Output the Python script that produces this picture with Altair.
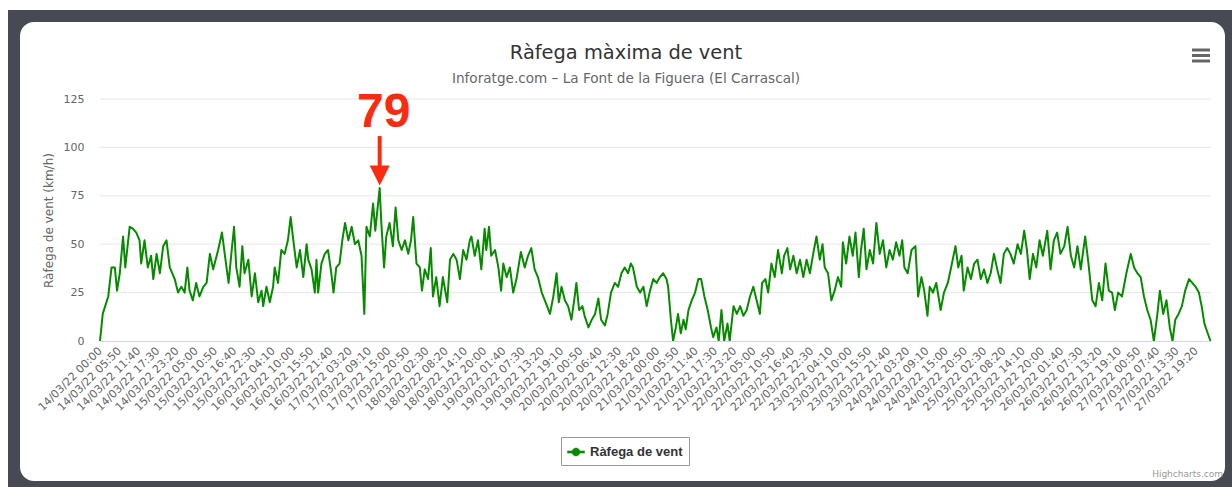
import json
import altair as alt
import pandas as pd

# ---------------- texts ----------------
TITLE = "Ràfega màxima de vent"
SUBTITLE = "Inforatge.com – La Font de la Figuera (El Carrascal)"
SERIES = "Ràfega de vent"
Y_TITLE = "Ràfega de vent (km/h)"
CREDITS = "Highcharts.com"

# ---------------- axis data ----------------
x_labels = [
    "14/03/22 00:00", "14/03/22 05:50", "14/03/22 11:40", "14/03/22 17:30", "14/03/22 23:20",
    "15/03/22 05:00", "15/03/22 10:50", "15/03/22 16:40", "15/03/22 22:30",
    "16/03/22 04:10", "16/03/22 10:00", "16/03/22 15:50", "16/03/22 21:40",
    "17/03/22 03:20", "17/03/22 09:10", "17/03/22 15:00", "17/03/22 20:50",
    "18/03/22 02:30", "18/03/22 08:20", "18/03/22 14:10", "18/03/22 20:00",
    "19/03/22 01:40", "19/03/22 07:30", "19/03/22 13:20", "19/03/22 19:10",
    "20/03/22 00:50", "20/03/22 06:40", "20/03/22 12:30", "20/03/22 18:20",
    "21/03/22 00:00", "21/03/22 05:50", "21/03/22 11:40", "21/03/22 17:30", "21/03/22 23:20",
    "22/03/22 05:00", "22/03/22 10:50", "22/03/22 16:40", "22/03/22 22:30",
    "23/03/22 04:10", "23/03/22 10:00", "23/03/22 15:50", "23/03/22 21:40",
    "24/03/22 03:20", "24/03/22 09:10", "24/03/22 15:00", "24/03/22 20:50",
    "25/03/22 02:30", "25/03/22 08:20", "25/03/22 14:10", "25/03/22 20:00",
    "26/03/22 01:40", "26/03/22 07:30", "26/03/22 13:20", "26/03/22 19:10",
    "27/03/22 00:50", "27/03/22 07:40", "27/03/22 13:30", "27/03/22 19:20",
]
LABEL_STEP = 35          # one category label every 35 readings (10-min data)
N_POINTS = 2022          # number of readings on the category axis
y_ticks = [0, 25, 50, 75, 100, 125]
grid_values = [25, 50, 75, 100, 125]

# ---------------- series (reading number, gust km/h) ----------------
point_no = [
    0, 5, 15, 21, 27, 31, 36, 42, 46, 54, 60, 66, 72, 75, 81, 87, 93, 97, 103, 109,
    115, 121, 127, 136, 142, 148, 154, 159, 163, 169, 175, 181, 188, 194, 200, 206, 215, 222, 227, 234,
    239, 244, 248, 254, 259, 263, 270, 276, 282, 288, 294, 297, 303, 309, 315, 318, 324, 330, 336, 342,
    347, 351, 358, 364, 370, 376, 379, 385, 391, 394, 397, 403, 409, 415, 421, 425, 430, 436, 441, 446,
    452, 458, 464, 470, 476, 481, 485, 491, 497, 501, 509, 512, 517, 521, 527, 533, 538, 543, 549, 555,
    561, 566, 570, 576, 582, 586, 591, 597, 602, 606, 612, 618, 624, 632, 637, 643, 649, 655, 661, 667,
    673, 676, 682, 688, 694, 700, 703, 708, 712, 719, 725, 730, 734, 740, 746, 752, 758, 766, 773, 779,
    785, 791, 797, 804, 811, 819, 825, 831, 835, 840, 846, 852, 858, 863, 867, 872, 878, 882, 889, 895,
    901, 907, 912, 919, 924, 930, 937, 943, 949, 955, 961, 966, 970, 977, 983, 989, 995, 1001, 1007, 1013,
    1019, 1025, 1031, 1034, 1039, 1043, 1048, 1052, 1057, 1062, 1066, 1071, 1077, 1083, 1089, 1094, 1100, 1106, 1112, 1116,
    1122, 1126, 1131, 1136, 1142, 1146, 1153, 1159, 1165, 1171, 1177, 1183, 1189, 1195, 1201, 1205, 1211, 1216, 1222, 1228,
    1234, 1241, 1245, 1251, 1256, 1262, 1268, 1274, 1280, 1286, 1292, 1298, 1304, 1310, 1315, 1319, 1325, 1331, 1337, 1343,
    1349, 1352, 1358, 1364, 1370, 1375, 1381, 1385, 1390, 1395, 1401, 1407, 1413, 1419, 1425, 1431, 1437, 1443, 1449, 1455,
    1460, 1464, 1470, 1477, 1484, 1489, 1495, 1500, 1506, 1510, 1516, 1522, 1530, 1536, 1543, 1549, 1557, 1562, 1568, 1572,
    1579, 1585, 1591, 1597, 1603, 1609, 1615, 1621, 1627, 1633, 1639, 1645, 1651, 1657, 1663, 1670, 1676, 1682, 1687, 1692,
    1698, 1704, 1710, 1716, 1724, 1730, 1736, 1742, 1748, 1755, 1761, 1767, 1773, 1779, 1785, 1793, 1799, 1806, 1812, 1818,
    1824, 1830, 1836, 1842, 1847, 1853, 1860, 1868, 1876, 1882, 1888, 1894, 1900, 1906, 1912, 1918, 1924, 1929, 1935, 1941,
    1947, 1952, 1957, 1963, 1969, 1975, 1982, 1988, 1994, 2000, 2005, 2010, 2016, 2021,
]
gust = [
    0, 14, 23, 38, 38, 26, 35, 54, 38, 59, 58, 56, 52, 40, 52, 38, 44, 32, 45, 35,
    49, 52, 38, 32, 25, 28, 25, 38, 26, 21, 30, 23, 28, 30, 45, 37, 47, 56, 45, 30,
    45, 59, 38, 28, 49, 35, 42, 23, 35, 20, 26, 18, 28, 20, 28, 38, 30, 47, 45, 52,
    64, 54, 38, 47, 33, 50, 42, 37, 25, 42, 25, 40, 45, 47, 35, 25, 38, 40, 52, 61,
    52, 59, 50, 52, 44, 14, 59, 54, 71, 57, 79, 61, 38, 54, 61, 49, 69, 52, 47, 52,
    45, 52, 64, 40, 38, 26, 37, 32, 48, 23, 33, 18, 33, 20, 42, 45, 42, 32, 47, 42,
    52, 54, 44, 52, 37, 58, 47, 59, 44, 47, 38, 26, 40, 33, 38, 25, 32, 46, 38, 44,
    48, 37, 33, 25, 20, 14, 23, 35, 20, 28, 21, 18, 11, 21, 30, 16, 18, 13, 7, 11,
    14, 22, 11, 8, 14, 25, 30, 28, 35, 38, 35, 40, 38, 28, 25, 28, 18, 26, 32, 30,
    33, 35, 32, 28, 11, 0, 7, 14, 4, 11, 6, 16, 21, 25, 32, 32, 23, 16, 7, 2,
    7, 0, 16, 0, 9, 0, 18, 14, 18, 13, 16, 23, 28, 21, 14, 30, 32, 25, 40, 33,
    47, 35, 44, 48, 37, 44, 35, 42, 33, 42, 35, 45, 54, 42, 50, 38, 35, 21, 26, 33,
    28, 51, 40, 54, 44, 56, 33, 47, 58, 37, 47, 40, 61, 45, 52, 38, 47, 42, 51, 44,
    52, 38, 35, 47, 49, 23, 33, 26, 13, 28, 25, 30, 16, 25, 30, 38, 49, 38, 44, 26,
    38, 32, 40, 42, 32, 37, 30, 35, 45, 37, 30, 45, 48, 45, 40, 50, 45, 57, 47, 32,
    45, 38, 52, 44, 57, 37, 52, 56, 45, 49, 59, 44, 38, 49, 37, 54, 40, 21, 18, 30,
    21, 40, 26, 25, 16, 25, 23, 35, 45, 38, 35, 33, 23, 16, 11, 0, 13, 26, 14, 21,
    7, 0, 11, 14, 18, 26, 32, 30, 28, 25, 18, 9, 4, 0,
]

# ---------------- styling ----------------
GREEN = "#078a00"
RED = "#fb2b12"
FONT = "DejaVu Sans"
W, H = 1111, 242
PAD = {"left": 100, "top": 99, "right": 21, "bottom": 146}

df = pd.DataFrame({"point_no": point_no, "gust": gust})
df["series"] = SERIES

peak_i = max(range(len(gust)), key=lambda k: gust[k])
peak = pd.DataFrame({"point_no": [point_no[peak_i]], "gust": [gust[peak_i]],
                     "label": [str(gust[peak_i])]})

x_scale = alt.Scale(domain=[0, N_POINTS], nice=False, zero=False)
y_scale = alt.Scale(domain=[0, 125], nice=False)

label_expr = f"{json.dumps(x_labels)}[round(datum.value / {LABEL_STEP})]"
x_ticks = [LABEL_STEP * k for k in range(len(x_labels))]

x_axis = alt.Axis(values=x_ticks, labelExpr=label_expr, labelAngle=-45,
                  labelAlign="right", labelBaseline="middle",
                  labelFont=FONT, labelFontSize=11, labelColor="#666666",
                  labelOverlap=False, labelBound=False, labelFlush=False,
                  labelPadding=8, ticks=False, tickSize=0, grid=False,
                  domainColor="#ccd6eb", domainWidth=1, title=None, zindex=1)
y_axis = alt.Axis(values=y_ticks, grid=False, domain=False, ticks=False, tickSize=0,
                  labelFont=FONT, labelFontSize=11, labelColor="#666666",
                  labelPadding=16, title=Y_TITLE, titleFont=FONT,
                  titleFontSize=12, titleFontWeight="normal",
                  titleColor="#666666", titlePadding=8, zindex=1)

one = pd.DataFrame({"k": [0]})

# --- frame: dark surround and white rounded panel ---
frame = alt.Chart(one).mark_rect(color="#474a53").encode(
    x=alt.value(-92), x2=alt.value(W + PAD["right"]),
    y=alt.value(-89), y2=alt.value(H + PAD["bottom"]))
panel = alt.Chart(one).mark_rect(color="#ffffff", cornerRadius=14).encode(
    x=alt.value(-80), x2=alt.value(1125),
    y=alt.value(-77), y2=alt.value(382))

# --- grid ---
grid = alt.Chart(pd.DataFrame({"v": grid_values})).mark_rule(
    color="#e6e6e6", strokeWidth=1).encode(
    y=alt.Y("v:Q", scale=y_scale, axis=y_axis), x=alt.value(0), x2=alt.value(W))

# --- line ---
line = alt.Chart(df).mark_line(strokeWidth=2, strokeJoin="round").encode(
    x=alt.X("point_no:Q", scale=x_scale, axis=x_axis),
    y=alt.Y("gust:Q", scale=y_scale, axis=y_axis),
    color=alt.Color("series:N", title=None,
                    scale=alt.Scale(domain=[SERIES], range=[GREEN]),
                    legend=alt.Legend(
                        orient="none", legendX=461, legendY=338, direction="horizontal",
                        padding=6, strokeColor="#999999", fillColor="#ffffff",
                        labelFont="Liberation Sans", labelFontSize=13, labelFontWeight="bold",
                        labelColor="#333333", labelOffset=5,
                        symbolType="M-1,-0.13H1V0.13H-1Z M0.47,0A0.47,0.47,0,1,1,-0.47,0A0.47,0.47,0,1,1,0.47,0Z",
                        symbolSize=289, symbolFillColor=GREEN, symbolStrokeColor=GREEN,
                        symbolStrokeWidth=0.5, symbolOpacity=1)),
)

# --- peak annotation ---
peak_text = alt.Chart(peak).mark_text(font="Liberation Sans", fontSize=48, fontWeight="bold",
                                      align="center", baseline="alphabetic", dx=4, dy=-61,
                                      color=RED).encode(
    x=alt.X("point_no:Q", axis=x_axis), y=alt.Y("gust:Q", axis=y_axis), text="label:N")
arrow_shaft = alt.Chart(peak).mark_rule(color=RED, strokeWidth=4, yOffset=-52, y2Offset=-21).encode(
    x=alt.X("point_no:Q", axis=x_axis), y=alt.Y("gust:Q", axis=y_axis), y2="gust")
arrow_head = alt.Chart(peak).mark_point(shape="M-1,-1L1,-1L0,1Z", size=400, filled=True,
                                        color=RED, opacity=1, yOffset=-12.5).encode(
    x=alt.X("point_no:Q", axis=x_axis), y=alt.Y("gust:Q", axis=y_axis))

# --- titles, credits, menu icon ---
title = alt.Chart(pd.DataFrame({"t": [TITLE]})).mark_text(
    font=FONT, fontSize=19.4, color="#333333", align="center", baseline="alphabetic").encode(
    text="t:N", x=alt.value(526), y=alt.value(-40))
subtitle = alt.Chart(pd.DataFrame({"t": [SUBTITLE]})).mark_text(
    font=FONT, fontSize=13.6, color="#666666", align="center", baseline="alphabetic").encode(
    text="t:N", x=alt.value(526), y=alt.value(-16))
credits = alt.Chart(pd.DataFrame({"t": [CREDITS]})).mark_text(
    font=FONT, fontSize=9, color="#999999", align="right", baseline="alphabetic").encode(
    text="t:N", x=alt.value(1123), y=alt.value(378))
menu = [alt.Chart(one).mark_rule(color="#666666", strokeWidth=3).encode(
    x=alt.value(1092), x2=alt.value(1110), y=alt.value(yy), y2=alt.value(yy))
    for yy in (-49, -43.5, -38)]

chart = alt.layer(
    frame, panel, grid, line, peak_text, arrow_shaft, arrow_head,
    title, subtitle, credits, *menu,
).properties(
    width=W, height=H, padding=PAD, background="#ffffff",
    autosize=alt.AutoSizeParams(type="none"),
).configure_view(stroke="transparent").configure_axisX(labelOverlap=False)

chart.save("out.html", embed_options={"renderer": "svg", "actions": False})
